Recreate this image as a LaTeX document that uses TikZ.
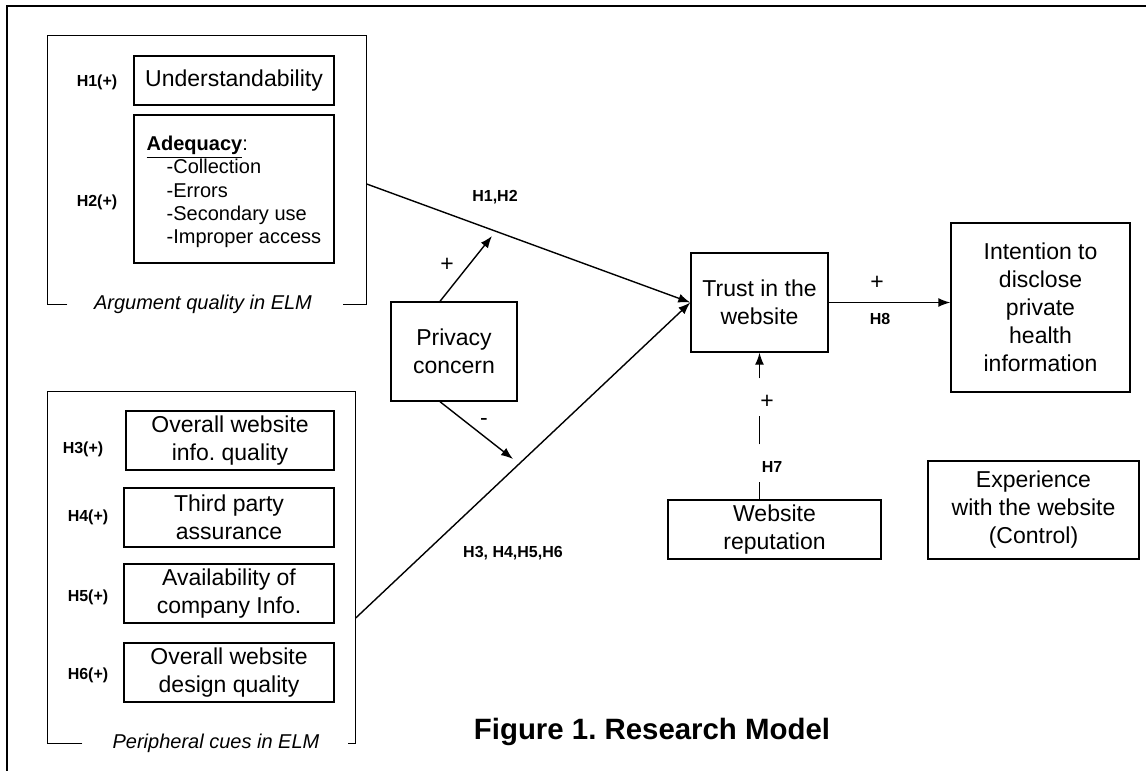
\documentclass[tikz,border=0pt]{standalone}
\usepackage{fontspec}
\setmainfont{Liberation Sans}
\usetikzlibrary{arrows.meta,calc}
\frenchspacing
\begin{document}
\begin{tikzpicture}[x=0.5pt,y=-0.5pt,
  line width=0.7pt,
  box/.style={draw, line width=0.7pt, inner sep=0pt, align=center, font=\fontsize{11.5}{14}\selectfont},
  hl/.style={font=\fontsize{8}{9.6}\selectfont\bfseries, inner sep=1pt},
  sign/.style={font=\fontsize{11.5}{14}\selectfont, inner sep=1pt},
  grplabel/.style={font=\fontsize{10}{12}\selectfont\itshape, inner sep=1pt},
  grp/.style={inner sep=0pt},
  arr/.style={-{Latex[length=6pt,width=4.5pt]}, line width=0.7pt}
]
\useasboundingbox (0,0) rectangle (1146,771);
% outer frame
\draw (1146,6) -- (7,6) -- (7,771);

% groups
\node[grp, minimum width=159pt, minimum height=134pt] (argq) at (207,170) {};
\node[grp, minimum width=153.5pt, minimum height=175.5pt] (peri) at (201.5,567.5) {};
\draw ([xshift=10pt]argq.south west) -- (argq.south west) -- (argq.north west)
      -- (argq.north east) -- (argq.south east) -- ([xshift=-12pt]argq.south east);
\draw ([xshift=17.5pt]peri.south west) -- (peri.south west) -- (peri.north west)
      -- (peri.north east) -- (peri.south east) -- ([xshift=-4pt]peri.south east);
\node[grplabel] (argl) at (203,304) {Argument quality in ELM};
\node[grplabel] (peril) at (216,743) {Peripheral cues in ELM};

% argument quality boxes
\node[box, minimum width=100pt, minimum height=24.5pt] (und) at (234,80.5) {Understandability};
\node[box, minimum width=100pt, minimum height=74pt] (adq) at (234,189) {};
\node[anchor=west, align=left, inner sep=0pt, font=\fontsize{10}{11.7}\selectfont] (adqtxt) at (146,192)
  {\textbf{\underline{Adequacy}}:\\
   \hspace*{10pt}-Collection\\
   \hspace*{10pt}-Errors\\
   \hspace*{10pt}-Secondary use\\
   \hspace*{10pt}-Improper access};
\node[hl] (h1) at (97,82) {H1(+)};
\node[hl] (h2) at (97,202) {H2(+)};

% peripheral boxes
\node[box, minimum width=104pt, minimum height=29.5pt] (p3) at (230,440.5) {Overall website\\info. quality};
\node[box, minimum width=105pt, minimum height=29.5pt] (p4) at (229,517.5) {Third party\\assurance};
\node[box, minimum width=105pt, minimum height=29.5pt] (p5) at (229,593.5) {Availability of\\company Info.};
\node[box, minimum width=105pt, minimum height=29.5pt] (p6) at (229,672.5) {Overall website\\design quality};
\node[hl] (h3) at (83,449) {H3(+)};
\node[hl] (h4) at (88,517) {H4(+)};
\node[hl] (h5) at (88,597) {H5(+)};
\node[hl] (h6) at (88,675) {H6(+)};

% main boxes
\node[box, minimum width=63pt, minimum height=49.5pt] (pc) at (454,351.5) {Privacy\\concern};
\node[box, minimum width=68.5pt, minimum height=49.5pt] (trust) at (759.5,302.5) {Trust in the\\website};
\node[box, minimum width=89.5pt, minimum height=84.5pt] (intent) at (1040.5,307.5) {Intention to\\disclose\\private\\health\\information};
\node[box, minimum width=106.5pt, minimum height=29.5pt] (rep) at (774.5,529.5) {Website\\reputation};
\node[box, minimum width=105.5pt, minimum height=49pt] (exp) at (1033.5,510) {Experience\\with the website\\(Control)};

% connectors
\draw[arr] ([yshift=-7pt]argq.east) -- (trust.west);
\draw[arr] ([yshift=-25.25pt]peri.east) -- (trust.west);
\coordinate (m1) at (492,236);
\coordinate (m2) at (513,459);
\draw[arr] ([xshift=-7pt]pc.north) -- (m1);
\draw[arr] ([xshift=-7pt]pc.south) -- (m2);
\draw[arr] (trust.east) -- (trust.east -| intent.west);
\draw[arr, dash pattern=on 14pt off 19pt, dash phase=5.5pt] (trust.south |- rep.north) -- (trust.south);

% labels
\node[hl] (lh12) at (495,197) {H1,H2};
\node[hl] (lh36) at (513,553) {H3, H4,H5,H6};
\node[sign] (lplus1) at (447,265) {+};
\node[sign] (lminus) at (484,422) {-};
\node[sign] (lplus8) at (877,283) {+};
\node[hl] (lh8) at (880,319) {H8};
\node[sign] (lplus7) at (767,402) {+};
\node[hl] (lh7) at (772,467) {H7};

% title
\node[font=\fontsize{14.7}{17}\selectfont\bfseries, inner sep=0pt] (title) at (652,732) {Figure 1. Research Model};
\end{tikzpicture}
\end{document}
